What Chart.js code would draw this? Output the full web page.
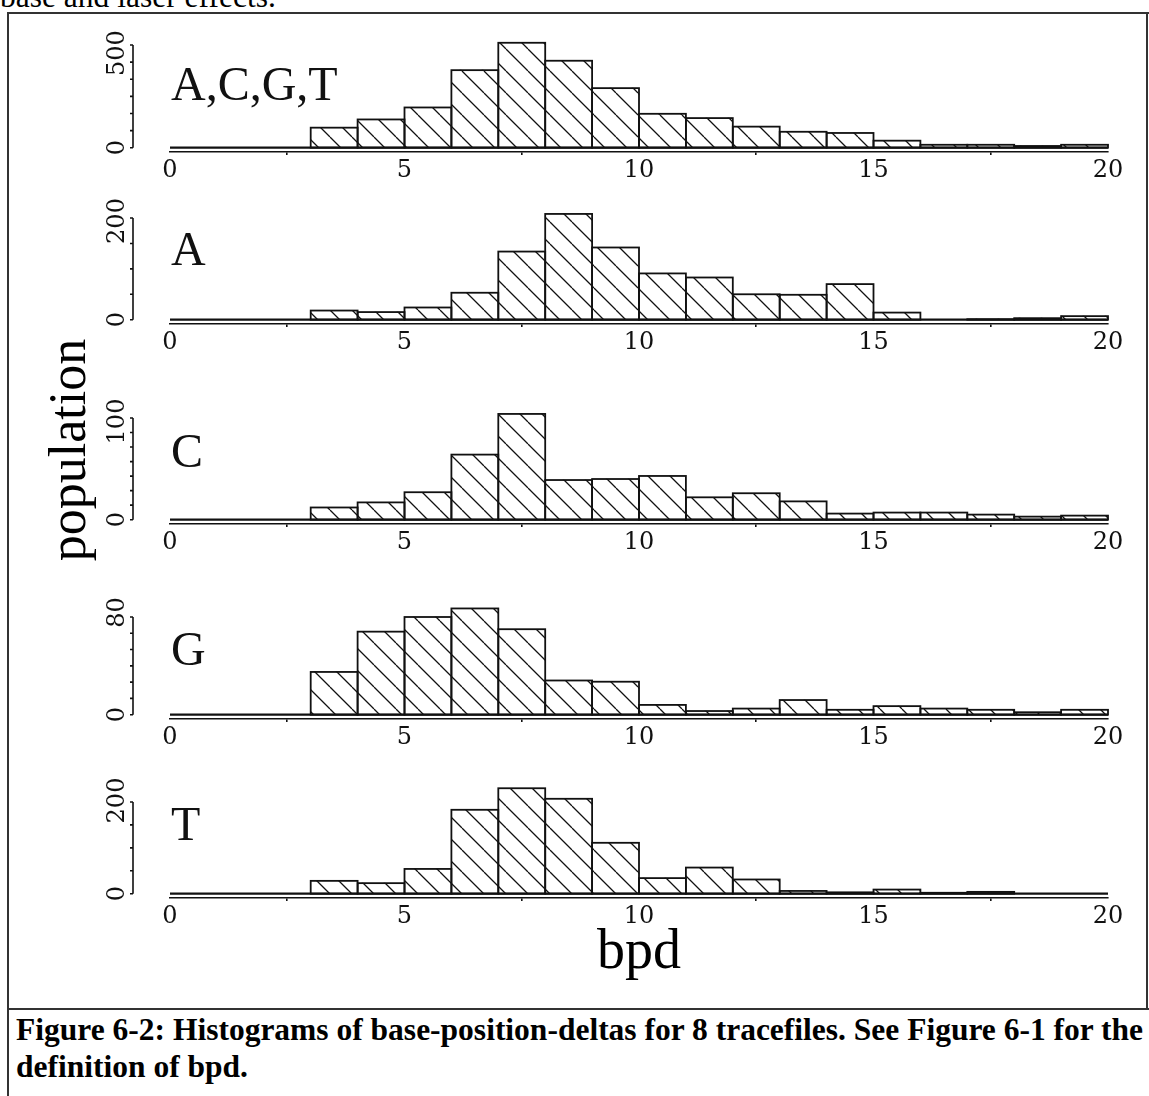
<!DOCTYPE html>
<html>
<head>
<meta charset="utf-8">
<title>Histograms of base-position-deltas</title>
<script src="https://cdn.jsdelivr.net/npm/chart.js@4.4.0/dist/chart.umd.min.js"></script>
<style>
  html, body { margin: 0; padding: 0; background: #fff; }
  #page { position: relative; width: 1149px; height: 1096px; overflow: hidden; background: #fff; }
  .rule { position: absolute; background: #333; }
  .panel { position: absolute; left: 0; }
  .txt { position: absolute; white-space: nowrap; color: #000; font-family: 'Liberation Serif', 'Times New Roman', serif; }
  #prev { left: 0; top: -22px; font-size: 31.5px; line-height: 37px; }
  #caption { left: 16px; top: 1011px; font-size: 31.5px; line-height: 37px; font-weight: bold; }
  #xlab { left: 539px; top: 921px; width: 200px; text-align: center; font-size: 56px; line-height: 56px; }
  #ylab { left: -82px; top: 424px; width: 300px; height: 52px; text-align: center; font-size: 52px; line-height: 52px; transform: rotate(-90deg); }
</style>
</head>
<body>
<div id="page">
  <div class="txt" id="prev">base and laser effects.</div>
  <div class="rule" style="left:7px; top:12px; width:1142px; height:2px;"></div>
  <div class="rule" style="left:7px; top:12px; width:2px; height:1084px;"></div>
  <div class="rule" style="left:1146px; top:12px; width:2px; height:997px;"></div>
  <div class="rule" style="left:7px; top:1008px; width:1142px; height:2px;"></div>
  <div class="txt" id="ylab">population</div>
  <div class="txt" id="xlab">bpd</div>
  <div class="txt" id="caption">Figure 6-2: Histograms of base-position-deltas for 8 tracefiles. See Figure 6-1 for the<br>definition of bpd.</div>
</div>
<script>
(function () {
  'use strict';

  // --- Data: counts per 1-bpd bin ---
  const bpdBins = [0, 1, 2, 3, 4, 5, 6, 7, 8, 9, 10, 11, 12, 13, 14, 15, 16, 17, 18, 19];
  const countsAll = [0, 0, 0, 117, 165, 235, 453, 613, 508, 348, 198, 173, 123, 93, 86, 41, 17, 17, 10, 17];
  const countsA = [0, 0, 0, 18, 15, 24, 53, 134, 208, 142, 91, 83, 50, 49, 70, 14, 0, 1, 3, 7];
  const countsC = [0, 0, 0, 12, 17, 27, 64, 104, 39, 40, 43, 22, 26, 18, 6, 7, 7, 5, 3, 4];
  const countsG = [0, 0, 0, 35, 68, 80, 87, 70, 28, 27, 8, 3, 5, 12, 4, 7, 5, 4, 2, 4];
  const countsT = [0, 0, 0, 28, 23, 54, 183, 230, 207, 111, 34, 57, 31, 6, 3, 9, 2, 4, 0, 1];

  const panelNames = ['A,C,G,T', 'A', 'C', 'G', 'T'];
  const panelCounts = [countsAll, countsA, countsC, countsG, countsT];

  // y axis: labelled ticks, top of the axis line, number of minor divisions
  const yLabelTicks = [[0, 500], [0, 200], [0, 100], [0, 80], [0, 200]];
  const yAxisMax = [600, 200, 100, 80, 200];
  const yMinorDivs = [6, 4, 7, 6, 4];

  // x axis
  const X_MIN = 0;
  const X_MAX = 20;
  const X_STEP = 5;

  // --- Layout (page pixels) ---
  const PAGE_W = 1149;
  const X_LEFT = 170;        // pixel of bpd = 0
  const X_RIGHT = 1108;      // pixel of bpd = 20
  const Y_AXIS_OFFSET = 37;  // y axis sits left of the x range
  const AXIS_GAP = 4.3;      // gap between histogram base and x axis line
  const PAD_TOP = 40;
  const X_AXIS_H = 34;
  const PANEL_TOP = [45.2, 218.3, 418.3, 616.7, 801.7];   // pixel of yAxisMax
  const PANEL_ZERO = [147.7, 320, 519.7, 714, 893.3];     // pixel of 0
  const NAME_BASE = [100, 265, 467.5, 665, 839.3];        // baseline of panel name
  const TOP_LABEL_SHIFT = [-9, 3, 3.5, -4.5, -1.5];       // upper y label vs its tick

  const INK = '#111';
  const TICK_FONT = { family: "'DejaVu Serif', serif", size: 24 };

  // --- Hatch fill: "\" lines ---
  function makeHatch(ctx) {
    const s = 22;
    const tile = document.createElement('canvas');
    tile.width = s;
    tile.height = s;
    const g = tile.getContext('2d');
    g.strokeStyle = INK;
    g.lineWidth = 1.3;
    g.beginPath();
    for (let k = -1; k <= 1; k++) {
      g.moveTo(k * s, 0);
      g.lineTo(k * s + s, s);
    }
    g.stroke();
    return ctx.createPattern(tile, 'repeat');
  }

  // --- S-PLUS style axes, bar outlines and panel name ---
  const splusPlugin = {
    id: 'splus',
    afterDatasetsDraw(chart, args, opts) {
      const ctx = chart.ctx;
      const xs = chart.scales.x;
      const ys = chart.scales.y;
      const meta = chart.getDatasetMeta(0);

      ctx.save();
      ctx.strokeStyle = INK;

      // bar outlines (centred on the edges so neighbours share one line)
      ctx.lineWidth = 1.8;
      meta.data.forEach(bar => {
        const p = bar.getProps(['x', 'y', 'base', 'width'], true);
        if (Math.abs(p.base - p.y) < 0.5) return;
        ctx.strokeRect(p.x - p.width / 2, p.y, p.width, p.base - p.y);
      });

      // histogram base line
      const y0 = ys.getPixelForValue(0);
      ctx.lineWidth = 2.2;
      ctx.beginPath();
      ctx.moveTo(xs.getPixelForValue(X_MIN), y0);
      ctx.lineTo(xs.getPixelForValue(X_MAX), y0);
      ctx.stroke();

      // y axis line and ticks
      const ax = chart.chartArea.left - Y_AXIS_OFFSET;
      ctx.lineWidth = 1.6;
      ctx.beginPath();
      ctx.moveTo(ax, y0);
      ctx.lineTo(ax, ys.getPixelForValue(opts.top));
      for (let k = 0; k <= opts.divs; k++) {
        const py = ys.getPixelForValue(opts.top * k / opts.divs);
        ctx.moveTo(ax, py);
        ctx.lineTo(ax - 3, py);
      }
      opts.labels.forEach(v => {
        const py = ys.getPixelForValue(v);
        ctx.moveTo(ax, py);
        ctx.lineTo(ax - 3, py);
      });
      ctx.stroke();

      // rotated y tick labels
      ctx.fillStyle = INK;
      ctx.font = TICK_FONT.size + 'px ' + TICK_FONT.family;
      ctx.textAlign = 'center';
      ctx.textBaseline = 'middle';
      opts.labels.forEach(v => {
        ctx.save();
        ctx.translate(ax - 15, ys.getPixelForValue(v) + (v === 0 ? 0 : opts.labelShift));
        ctx.rotate(-Math.PI / 2);
        ctx.fillText(String(v), 0, 0);
        ctx.restore();
      });

      // panel name
      ctx.font = "48px 'Liberation Serif', 'Times New Roman', serif";
      ctx.textAlign = 'left';
      ctx.textBaseline = 'alphabetic';
      ctx.fillText(opts.name, xs.getPixelForValue(X_MIN) + 1, opts.nameBase);
      ctx.restore();
    },
  };

  // --- Build one panel ---
  function createPanel(i) {
    const top = PANEL_TOP[i] - PAD_TOP;
    const areaH = PANEL_ZERO[i] + AXIS_GAP - PANEL_TOP[i];
    const height = Math.round(PAD_TOP + areaH + X_AXIS_H);
    const yMin = -AXIS_GAP * yAxisMax[i] / (PANEL_ZERO[i] - PANEL_TOP[i]);

    const canvas = document.createElement('canvas');
    canvas.className = 'panel';
    canvas.width = PAGE_W;
    canvas.height = height;
    canvas.style.width = PAGE_W + 'px';
    canvas.style.height = height + 'px';
    canvas.style.top = top + 'px';
    document.getElementById('page').appendChild(canvas);
    const ctx = canvas.getContext('2d');

    return new Chart(ctx, {
      type: 'bar',
      data: {
        datasets: [{
          data: bpdBins.map((b, j) => ({ x: b + 0.5, y: panelCounts[i][j] })),
          backgroundColor: makeHatch(ctx),
          borderWidth: 0,
          barPercentage: 1,
          categoryPercentage: 1,
          clip: false,
        }],
      },
      options: {
        responsive: false,
        animation: false,
        devicePixelRatio: 1,
        layout: {
          padding: { top: PAD_TOP, left: X_LEFT, right: PAGE_W - X_RIGHT, bottom: 0 },
        },
        plugins: {
          legend: { display: false },
          tooltip: { enabled: false },
          splus: {
            name: panelNames[i],
            nameBase: NAME_BASE[i] - top,
            top: yAxisMax[i],
            divs: yMinorDivs[i],
            labels: yLabelTicks[i],
            labelShift: TOP_LABEL_SHIFT[i],
          },
        },
        scales: {
          x: {
            type: 'linear',
            min: X_MIN,
            max: X_MAX,
            offset: false,
            ticks: {
              stepSize: X_STEP,
              color: INK,
              font: TICK_FONT,
              padding: 1,
              maxRotation: 0,
              autoSkip: false,
            },
            grid: {
              drawOnChartArea: false,
              drawTicks: true,
              tickLength: 3,
              color: INK,
              lineWidth: 1.6,
            },
            border: { display: true, color: INK, width: 1.6 },
            afterFit: scale => { scale.height = X_AXIS_H; },
          },
          y: {
            display: false,
            min: yMin,
            max: yAxisMax[i],
          },
        },
      },
      plugins: [splusPlugin],
    });
  }

  panelNames.forEach((_, i) => createPanel(i));
})();
</script>
</body>
</html>
